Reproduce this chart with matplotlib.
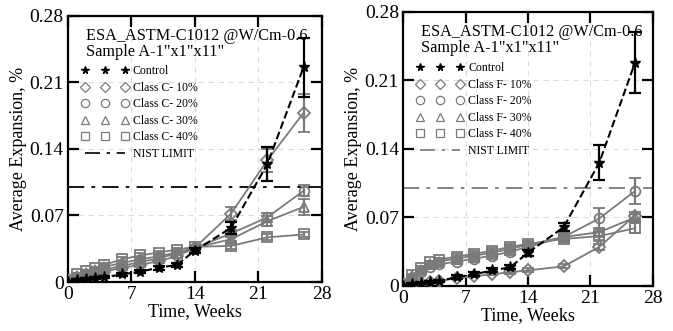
import numpy as np
import matplotlib.pyplot as plt
from matplotlib.lines import Line2D

plt.rcParams['font.family'] = ['Liberation Serif', 'DejaVu Serif']
plt.rcParams['mathtext.fontset'] = 'stix'

# time in weeks
weeks = [0, 1, 2, 3, 4, 6, 8, 10, 12, 14, 18, 22, 26]

# left panel (class C fly ash)
ctrl_c = [0.0, 0.002, 0.003, 0.004, 0.005, 0.008, 0.011, 0.015, 0.018, 0.033, 0.057, 0.124, 0.226]
ctrl_c_err = [0.001, 0.001, 0.001, 0.001, 0.001, 0.002, 0.002, 0.002, 0.002, 0.003, 0.006, 0.018, 0.031]
c10 = [0.001, 0.004, 0.006, 0.009, 0.011, 0.015, 0.018, 0.022, 0.027, 0.036, 0.072, 0.128, 0.178]
c10_err = [0.001, 0.001, 0.001, 0.001, 0.002, 0.002, 0.002, 0.002, 0.002, 0.003, 0.007, 0.012, 0.02]
c20 = [0.001, 0.005, 0.008, 0.011, 0.013, 0.017, 0.021, 0.025, 0.030, 0.036, 0.051, 0.068, 0.096]
c20_err = [0.001, 0.001, 0.001, 0.001, 0.002, 0.002, 0.002, 0.002, 0.002, 0.003, 0.004, 0.005, 0.006]
c30 = [0.002, 0.006, 0.010, 0.013, 0.016, 0.020, 0.024, 0.027, 0.031, 0.036, 0.045, 0.064, 0.079]
c30_err = [0.001, 0.001, 0.001, 0.001, 0.002, 0.002, 0.002, 0.002, 0.002, 0.003, 0.004, 0.005, 0.008]
c40 = [0.002, 0.008, 0.012, 0.015, 0.018, 0.024, 0.028, 0.031, 0.034, 0.037, 0.038, 0.047, 0.050]
c40_err = [0.001, 0.001, 0.001, 0.001, 0.002, 0.002, 0.002, 0.002, 0.002, 0.002, 0.003, 0.003, 0.003]

# right panel (class F fly ash)
ctrl_f = [0.0, 0.002, 0.003, 0.004, 0.005, 0.009, 0.012, 0.016, 0.019, 0.034, 0.060, 0.126, 0.228]
ctrl_f_err = [0.001, 0.001, 0.001, 0.001, 0.001, 0.002, 0.002, 0.002, 0.002, 0.003, 0.004, 0.018, 0.031]
f10 = [0.001, 0.002, 0.003, 0.004, 0.005, 0.008, 0.010, 0.012, 0.014, 0.016, 0.020, 0.040, 0.072]
f10_err = [0.001, 0.001, 0.001, 0.001, 0.001, 0.001, 0.001, 0.001, 0.002, 0.002, 0.002, 0.003, 0.004]
f20 = [0.001, 0.008, 0.014, 0.019, 0.022, 0.025, 0.028, 0.031, 0.035, 0.040, 0.050, 0.069, 0.097]
f20_err = [0.001, 0.001, 0.002, 0.002, 0.002, 0.003, 0.003, 0.003, 0.003, 0.003, 0.004, 0.011, 0.013]
f30 = [0.002, 0.010, 0.016, 0.022, 0.025, 0.028, 0.031, 0.034, 0.038, 0.042, 0.050, 0.055, 0.070]
f30_err = [0.001, 0.001, 0.002, 0.002, 0.002, 0.003, 0.003, 0.003, 0.003, 0.003, 0.003, 0.004, 0.004]
f40 = [0.002, 0.011, 0.018, 0.024, 0.027, 0.030, 0.033, 0.036, 0.040, 0.043, 0.048, 0.051, 0.059]
f40_err = [0.001, 0.001, 0.002, 0.002, 0.002, 0.003, 0.003, 0.003, 0.003, 0.003, 0.003, 0.004, 0.005]

nist_limit = 0.10
gray = '#7a7a7a'


def draw_panel(ax, ctrl, ctrl_err, mixes, errs, cls, nist_color):
    markers = ['D', 'o', '^', 's']
    sizes = [6, 7, 7, 7]
    pct = ['10%', '20%', '30%', '40%']
    for y, e, m, ms in zip(mixes, errs, markers, sizes):
        ax.errorbar(weeks, y, yerr=e, color=gray, marker=m, ms=ms, mfc='none',
                    mew=1.3, lw=1.3, capsize=4, elinewidth=1.6, capthick=1.6, zorder=3)
    ax.errorbar(weeks, ctrl, yerr=ctrl_err, color='black', marker='*', ms=8,
                ls='--', lw=1.5, capsize=4, elinewidth=1.6, capthick=1.6, zorder=4)
    ax.axhline(nist_limit, color=nist_color, ls=(0, (9, 4, 2, 4)), lw=1.3, zorder=2)

    ax.set_xlim(0, 28)
    ax.set_ylim(0, 0.28)
    ax.set_xticks([0, 7, 14, 21, 28])
    ax.set_yticks([0, 0.07, 0.14, 0.21, 0.28])
    ax.set_yticklabels(['0', '0.07', '0.14', '0.21', '0.28'])
    ax.tick_params(direction='in', length=8, width=1.6, top=True, right=True,
                   labelsize=14, pad=3)
    ax.grid(True, ls=(0, (5, 4)), color='#dddddd', lw=0.8)
    for s in ax.spines.values():
        s.set_linewidth(1.6)
    ax.set_xlabel('Time, Weeks', fontsize=13, labelpad=0)
    ax.set_ylabel('Average Expansion, %', fontsize=13, labelpad=2)

    ax.text(0.07, 0.955, 'ESA_ASTM-C1012 @W/Cm-0.6\nSample A-1"x1"x11"',
            transform=ax.transAxes, fontsize=11.7, va='top', ha='left',
            linespacing=1.0)

    handles = [Line2D([], [], ls='none', marker='*', color='black', ms=5.5)]
    labels = ['Control']
    for m, p in zip(markers, pct):
        handles.append(Line2D([], [], ls='none', marker=m, color=gray, mfc='none',
                              ms=5 if m == 'D' else 6, mew=0.9))
        labels.append('Class %s- %s' % (cls, p))
    handles.append(Line2D([], [], color=nist_color, ls=(0, (9, 4, 2, 4)), lw=1.2))
    labels.append('NIST LIMIT')
    ax.legend(handles, labels, loc='upper left', bbox_to_anchor=(0.0, 0.865),
              frameon=False, numpoints=3, handlelength=4.0, handletextpad=0.35,
              labelspacing=0.38, fontsize=8.5, borderaxespad=0.75)


fig = plt.figure(figsize=(6.73, 3.31), dpi=100)
ax1 = fig.add_axes([0.101, 0.148, 0.377, 0.804])
ax2 = fig.add_axes([0.599, 0.136, 0.371, 0.828])

draw_panel(ax1, ctrl_c, ctrl_c_err, [c10, c20, c30, c40],
           [c10_err, c20_err, c30_err, c40_err], 'C', 'black')
draw_panel(ax2, ctrl_f, ctrl_f_err, [f10, f20, f30, f40],
           [f10_err, f20_err, f30_err, f40_err], 'F', gray)

fig.savefig('out.png', dpi=100)
